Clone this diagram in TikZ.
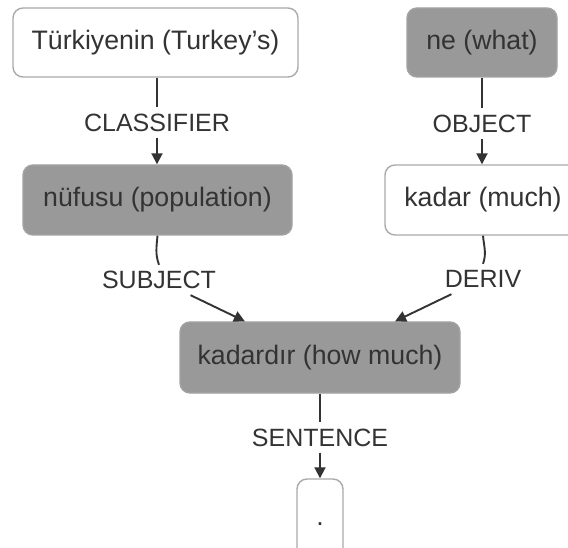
\documentclass[tikz,border=0pt]{standalone}
\usepackage{fontspec}
\setmainfont{Liberation Sans}
\usetikzlibrary{arrows.meta}
\definecolor{ink}{HTML}{333333}
\definecolor{boxgray}{HTML}{999999}
\definecolor{boxline}{HTML}{A3A3A3}
\definecolor{edgegray}{HTML}{AAAAAA}
\begin{document}
\begin{tikzpicture}[x=1pt,y=-1pt,
  word/.style={rounded corners=10pt, line width=1.4pt, text=ink,
    font=\fontsize{26.7}{30}\selectfont, inner sep=0pt, align=center},
  plain/.style={word, draw=edgegray, fill=white},
  marked/.style={word, draw=boxline, fill=boxgray},
  rel/.style={text=ink, font=\fontsize{25}{30}\selectfont, inner sep=6pt,
    text height=18pt, text depth=0pt},
  link/.style={draw=ink, line width=1.9pt},
  arr/.style={link, -{Triangle[length=11pt,width=11pt]}}
]
\useasboundingbox (0,0) rectangle (568,548);
\fill[white] (0,0) rectangle (568,548);

% words of the sentence
\node[plain,  minimum width=285pt, minimum height=69pt] (tk)  at (155.5,42.5) {Türkiyenin (Turkey's)};
\node[marked, minimum width=269pt, minimum height=70pt] (nuf) at (157.5,200)  {nüfusu (population)};
\node[marked, minimum width=150pt, minimum height=69pt] (ne)  at (482,42.5)   {ne (what)};
\node[plain,  minimum width=196pt, minimum height=70pt] (kad) at (483,200)    {kadar (much)};
\node[marked, minimum width=280pt, minimum height=71pt] (kdr) at (320,357.5)  {kadardır (how much)};
\node[plain,  minimum width=46pt,  minimum height=90pt] (dot) at (320,524)    {.};

% relation labels
\node[rel] (cls)  at (157,122.5) {CLASSIFIER};
\node[rel] (obj)  at (482,123.5) {OBJECT};
\node[rel] (subj) at (159,280)   {SUBJECT};
\node[rel] (der)  at (483,279)   {DERIV};
\node[rel] (sen)  at (320,437.5) {SENTENCE};

% dependency edges
\draw[link] (tk.south -| cls) -- (cls);
\draw[arr]  (cls) -- (nuf.north -| cls);
\draw[link] (ne) -- (obj);
\draw[arr]  (obj) -- (kad.north -| obj);
\draw[link] (nuf.south) to[out=-95,in=110] (subj.north);
\draw[arr]  (subj) -- (kdr);
\draw[link] (kad.south) to[out=-85,in=70] (der.north);
\draw[arr]  (der) -- (kdr);
\draw[link] (kdr) -- (sen);
\draw[arr]  (sen) -- (dot);
\end{tikzpicture}
\end{document}
